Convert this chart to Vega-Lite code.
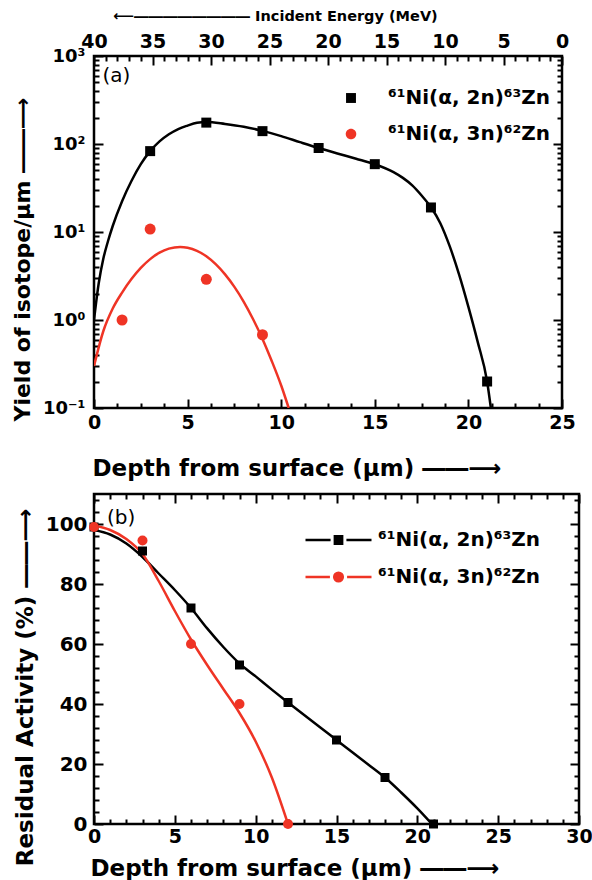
{
  "$schema": "https://vega.github.io/schema/vega-lite/v6.json",
  "background": "white",
  "padding": {"left": 9, "top": 6, "right": 0, "bottom": 0},
  "spacing": 6,
  "resolve": {
    "scale": {"fill": "independent", "stroke": "independent", "shape": "independent"},
    "legend": {"fill": "independent", "stroke": "independent", "shape": "independent"}
  },
  "config": {
    "font": "DejaVu Sans",
    "view": {"stroke": "black", "strokeWidth": 2.5},
    "axis": {
      "domain": false, "grid": false, "tickColor": "black", "tickWidth": 2,
      "labelColor": "black", "labelFont": "DejaVu Sans", "labelFontWeight": "bold", "labelFontSize": 19,
      "titleFont": "DejaVu Sans", "titleFontWeight": "bold", "titleFontSize": 22, "titleColor": "black",
      "labelOverlap": false, "labelFlush": false, "labelBound": false
    }
  },
  "datasets": {
    "fitA_2n": [
      {"depth": 0, "value": 1.0}, {"depth": 0.25, "value": 2.6}, {"depth": 0.5, "value": 5.0}, {"depth": 0.75, "value": 7.9},
      {"depth": 1, "value": 11.7}, {"depth": 1.5, "value": 22.4}, {"depth": 2, "value": 38}, {"depth": 2.5, "value": 59},
      {"depth": 3, "value": 83}, {"depth": 3.5, "value": 107}, {"depth": 4, "value": 129}, {"depth": 4.5, "value": 148},
      {"depth": 5, "value": 162}, {"depth": 5.5, "value": 174}, {"depth": 6, "value": 178}, {"depth": 7, "value": 169},
      {"depth": 8, "value": 157}, {"depth": 9, "value": 141}, {"depth": 10, "value": 123}, {"depth": 11, "value": 105},
      {"depth": 12, "value": 90}, {"depth": 13, "value": 78}, {"depth": 14, "value": 68}, {"depth": 15, "value": 58.9},
      {"depth": 16, "value": 47.9}, {"depth": 16.5, "value": 41.2}, {"depth": 17, "value": 33.9}, {"depth": 17.5, "value": 26},
      {"depth": 18, "value": 19.1}, {"depth": 18.5, "value": 12.6}, {"depth": 19, "value": 6.9}, {"depth": 19.5, "value": 3.3},
      {"depth": 20, "value": 1.41}, {"depth": 20.5, "value": 0.56}, {"depth": 21, "value": 0.2}, {"depth": 21.2, "value": 0.1}
    ],
    "fitA_3n": [
      {"depth": 0, "value": 0.3}, {"depth": 0.5, "value": 0.75}, {"depth": 1, "value": 1.35}, {"depth": 1.5, "value": 2.05},
      {"depth": 2, "value": 2.92}, {"depth": 2.5, "value": 3.91}, {"depth": 3, "value": 4.92}, {"depth": 3.5, "value": 5.82},
      {"depth": 4, "value": 6.47}, {"depth": 4.6, "value": 6.76}, {"depth": 5, "value": 6.62}, {"depth": 5.5, "value": 6.11},
      {"depth": 6, "value": 5.3}, {"depth": 6.5, "value": 4.31}, {"depth": 7, "value": 3.3}, {"depth": 7.5, "value": 2.38},
      {"depth": 8, "value": 1.61}, {"depth": 8.5, "value": 1.02}, {"depth": 9, "value": 0.61}, {"depth": 9.5, "value": 0.34},
      {"depth": 10, "value": 0.18}, {"depth": 10.4, "value": 0.1}
    ],
    "ptsA": [
      {"reaction": "⁶¹Ni(α, 2n)⁶³Zn", "depth": 3, "value": 83},
      {"reaction": "⁶¹Ni(α, 2n)⁶³Zn", "depth": 6, "value": 175},
      {"reaction": "⁶¹Ni(α, 2n)⁶³Zn", "depth": 9, "value": 140},
      {"reaction": "⁶¹Ni(α, 2n)⁶³Zn", "depth": 12, "value": 90},
      {"reaction": "⁶¹Ni(α, 2n)⁶³Zn", "depth": 15, "value": 59},
      {"reaction": "⁶¹Ni(α, 2n)⁶³Zn", "depth": 18, "value": 19},
      {"reaction": "⁶¹Ni(α, 2n)⁶³Zn", "depth": 21, "value": 0.2},
      {"reaction": "⁶¹Ni(α, 3n)⁶²Zn", "depth": 1.5, "value": 1.0},
      {"reaction": "⁶¹Ni(α, 3n)⁶²Zn", "depth": 3, "value": 10.8},
      {"reaction": "⁶¹Ni(α, 3n)⁶²Zn", "depth": 6, "value": 2.9},
      {"reaction": "⁶¹Ni(α, 3n)⁶²Zn", "depth": 9, "value": 0.68}
    ],
    "fitB_2n": [
      {"depth": 0, "value": 98}, {"depth": 1, "value": 96.5}, {"depth": 2, "value": 93.5}, {"depth": 3, "value": 89},
      {"depth": 4, "value": 83.5}, {"depth": 5, "value": 78}, {"depth": 6, "value": 72}, {"depth": 7, "value": 65.2},
      {"depth": 8, "value": 59}, {"depth": 9, "value": 53.5}, {"depth": 10, "value": 49.2}, {"depth": 11, "value": 44.8},
      {"depth": 12, "value": 40.5}, {"depth": 13, "value": 36.3}, {"depth": 14, "value": 32.2}, {"depth": 15, "value": 28},
      {"depth": 16, "value": 23.8}, {"depth": 17, "value": 19.7}, {"depth": 18, "value": 15.5}, {"depth": 19, "value": 10.5},
      {"depth": 20, "value": 5.2}, {"depth": 20.9, "value": 0}
    ],
    "fitB_3n": [
      {"depth": 0, "value": 99.5}, {"depth": 1, "value": 98}, {"depth": 2, "value": 95}, {"depth": 3, "value": 90},
      {"depth": 4, "value": 81}, {"depth": 5, "value": 71}, {"depth": 6, "value": 61.5}, {"depth": 7, "value": 53},
      {"depth": 8, "value": 45}, {"depth": 9, "value": 37}, {"depth": 10, "value": 27.5}, {"depth": 11, "value": 15.5},
      {"depth": 12, "value": 0}
    ],
    "ptsB": [
      {"reaction": "⁶¹Ni(α, 2n)⁶³Zn", "depth": 0, "value": 99},
      {"reaction": "⁶¹Ni(α, 2n)⁶³Zn", "depth": 3, "value": 91},
      {"reaction": "⁶¹Ni(α, 2n)⁶³Zn", "depth": 6, "value": 72},
      {"reaction": "⁶¹Ni(α, 2n)⁶³Zn", "depth": 9, "value": 53},
      {"reaction": "⁶¹Ni(α, 2n)⁶³Zn", "depth": 12, "value": 40.5},
      {"reaction": "⁶¹Ni(α, 2n)⁶³Zn", "depth": 15, "value": 28},
      {"reaction": "⁶¹Ni(α, 2n)⁶³Zn", "depth": 18, "value": 15.5},
      {"reaction": "⁶¹Ni(α, 2n)⁶³Zn", "depth": 21, "value": 0},
      {"reaction": "⁶¹Ni(α, 3n)⁶²Zn", "depth": 0, "value": 99},
      {"reaction": "⁶¹Ni(α, 3n)⁶²Zn", "depth": 3, "value": 94.5},
      {"reaction": "⁶¹Ni(α, 3n)⁶²Zn", "depth": 6, "value": 60},
      {"reaction": "⁶¹Ni(α, 3n)⁶²Zn", "depth": 9, "value": 40},
      {"reaction": "⁶¹Ni(α, 3n)⁶²Zn", "depth": 12, "value": 0}
    ],
    "labels": [
      {"panel": "a", "label": "(a)", "depth": 0.45, "value": 590},
      {"panel": "b", "label": "(b)", "depth": 0.8, "value": 102}
    ],
    "axisA": [{"energy": 20, "value": 1}],
    "axisB": [{"depth": 15, "value": 50}]
  },
  "vconcat": [
    {
      "width": 468,
      "height": 352,
      "resolve": {"scale": {"x": "independent", "y": "independent"}},
      "layer": [
        {
          "encoding": {
            "x": {
              "field": "depth", "type": "quantitative",
              "scale": {"domain": [0, 25], "nice": false, "zero": false},
              "axis": {
                "orient": "bottom",
                "values": [0, 1.25, 2.5, 3.75, 5, 6.25, 7.5, 8.75, 10, 11.25, 12.5, 13.75, 15, 16.25, 17.5, 18.75, 20, 21.25, 22.5, 23.75, 25],
                "format": "d",
                "labelExpr": "datum.value % 5 === 0 ? datum.label : ''",
                "tickSize": {"condition": {"test": "datum.value % 5 === 0", "value": -9}, "value": -5},
                "labelPadding": 14,
                "title": "Depth from surface (μm) ――⟶",
                "titleFontSize": 23,
                "titleX": -2, "titleY": 60, "titleAlign": "left", "titleBaseline": "middle"
              }
            },
            "y": {
              "field": "value", "type": "quantitative",
              "scale": {"type": "log", "domain": [0.1, 1000], "nice": false},
              "axis": {
                "orient": "left",
                "values": [0.1, 0.2, 0.3, 0.4, 0.5, 0.6, 0.7, 0.8, 0.9, 1, 2, 3, 4, 5, 6, 7, 8, 9, 10, 20, 30, 40, 50, 60, 70, 80, 90, 100, 200, 300, 400, 500, 600, 700, 800, 900, 1000],
                "labelExpr": "datum.value == 0.1 ? '10⁻¹' : datum.value == 1 ? '10⁰' : datum.value == 10 ? '10¹' : datum.value == 100 ? '10²' : datum.value == 1000 ? '10³' : ''",
                "tickSize": {"condition": {"test": "datum.value == 0.1 || datum.value == 1 || datum.value == 10 || datum.value == 100 || datum.value == 1000", "value": -9}, "value": -5},
                "labelPadding": 18,
                "labelFontSize": 18,
                "title": "Yield of isotope/μm ――⟶",
                "titleX": -72, "titleY": 203, "titleAlign": "center", "titleBaseline": "middle", "titleAngle": 270
              }
            }
          },
          "layer": [
            {"data": {"name": "fitA_3n"}, "mark": {"type": "line", "color": "#ef3425", "strokeWidth": 2.5, "interpolate": "monotone", "clip": true}},
            {"data": {"name": "fitA_2n"}, "mark": {"type": "line", "color": "black", "strokeWidth": 2.5, "interpolate": "monotone", "clip": true}},
            {"data": {"name": "ptsA"}, "transform": [{"filter": {"field": "reaction", "equal": "⁶¹Ni(α, 2n)⁶³Zn"}}],
             "mark": {"type": "point", "shape": "square", "filled": true, "color": "black", "size": 100, "opacity": 1}},
            {"data": {"name": "ptsA"}, "transform": [{"filter": {"field": "reaction", "equal": "⁶¹Ni(α, 3n)⁶²Zn"}}],
             "mark": {"type": "point", "shape": "circle", "filled": true, "color": "#ef3425", "size": 121, "opacity": 1}},
            {
              "data": {"name": "ptsA"},
              "mark": {"type": "point", "filled": true, "opacity": 0, "size": 4356},
              "encoding": {
                "fill": {"field": "reaction", "type": "nominal",
                  "scale": {"domain": ["⁶¹Ni(α, 2n)⁶³Zn", "⁶¹Ni(α, 3n)⁶²Zn"], "range": ["black", "#ef3425"]},
                  "legend": {"orient": "none", "legendX": 224, "legendY": 32, "title": null, "clipHeight": 20, "rowPadding": 16, "labelOffset": 4, "labelFontSize": 20, "labelFont": "DejaVu Sans", "labelFontWeight": "bold", "labelColor": "black", "symbolSize": 4356, "symbolStrokeWidth": 0, "symbolOpacity": 1, "padding": 0, "labelLimit": 400}},
                "shape": {"field": "reaction", "type": "nominal",
                  "scale": {"domain": ["⁶¹Ni(α, 2n)⁶³Zn", "⁶¹Ni(α, 3n)⁶²Zn"], "range": ["M-0.15,-0.15H0.15V0.15H-0.15Z", "M-0.16,0A0.16,0.16 0 1,0 0.16,0A0.16,0.16 0 1,0 -0.16,0Z"]},
                  "legend": {"orient": "none", "legendX": 224, "legendY": 32, "title": null, "clipHeight": 20, "rowPadding": 16, "labelOffset": 4, "labelFontSize": 20, "labelFont": "DejaVu Sans", "labelFontWeight": "bold", "labelColor": "black", "symbolSize": 4356, "symbolStrokeWidth": 0, "symbolOpacity": 1, "padding": 0, "labelLimit": 400}}
              }
            },
            {
              "data": {"name": "labels"}, "transform": [{"filter": "datum.panel == 'a'"}],
              "mark": {"type": "text", "align": "left", "baseline": "middle", "fontSize": 20, "font": "DejaVu Sans", "color": "black"},
              "encoding": {"text": {"field": "label"}}
            }
          ]
        },
        {
          "data": {"name": "axisA"},
          "mark": {"type": "point", "opacity": 0},
          "encoding": {
            "x": {
              "field": "energy", "type": "quantitative",
              "scale": {"domain": [0, 40], "reverse": true, "nice": false, "zero": false},
              "axis": {
                "orient": "top",
                "values": [0, 1, 2, 3, 4, 5, 6, 7, 8, 9, 10, 11, 12, 13, 14, 15, 16, 17, 18, 19, 20, 21, 22, 23, 24, 25, 26, 27, 28, 29, 30, 31, 32, 33, 34, 35, 36, 37, 38, 39, 40],
                "format": "d",
                "labelExpr": "datum.value % 5 === 0 ? datum.label : ''",
                "tickSize": {"condition": {"test": "datum.value % 5 === 0", "value": -9}, "value": -5},
                "labelPadding": 14,
                "title": "⟵――――――――   Incident Energy (MeV)",
                "titleFontSize": 14.5,
                "titleX": 181, "titleY": -40, "titleAlign": "center", "titleBaseline": "middle"
              }
            },
            "y": {
              "field": "value", "type": "quantitative",
              "scale": {"type": "log", "domain": [0.1, 1000], "nice": false},
              "axis": {
                "orient": "right",
                "values": [0.1, 0.2, 0.3, 0.4, 0.5, 0.6, 0.7, 0.8, 0.9, 1, 2, 3, 4, 5, 6, 7, 8, 9, 10, 20, 30, 40, 50, 60, 70, 80, 90, 100, 200, 300, 400, 500, 600, 700, 800, 900, 1000],
                "labels": false,
                "tickSize": {"condition": {"test": "datum.value == 0.1 || datum.value == 1 || datum.value == 10 || datum.value == 100 || datum.value == 1000", "value": -9}, "value": -5},
                "title": null
              }
            }
          }
        }
      ]
    },
    {
      "width": 485,
      "height": 330,
      "resolve": {"scale": {"x": "independent", "y": "independent"}},
      "layer": [
        {
          "encoding": {
            "x": {
              "field": "depth", "type": "quantitative",
              "scale": {"domain": [0, 30], "nice": false, "zero": false},
              "axis": {
                "orient": "bottom",
                "values": [0, 1, 2, 3, 4, 5, 6, 7, 8, 9, 10, 11, 12, 13, 14, 15, 16, 17, 18, 19, 20, 21, 22, 23, 24, 25, 26, 27, 28, 29, 30],
                "format": "d",
                "labelExpr": "datum.value % 5 === 0 ? datum.label : ''",
                "tickSize": {"condition": {"test": "datum.value % 5 === 0", "value": -9}, "value": -5},
                "labelPadding": 12,
                "labelFontSize": 19,
                "title": "Depth from surface (μm) ――⟶",
                "titleFontSize": 23,
                "titleX": -4, "titleY": 44, "titleAlign": "left", "titleBaseline": "middle"
              }
            },
            "y": {
              "field": "value", "type": "quantitative",
              "scale": {"domain": [0, 110], "nice": false, "zero": true},
              "axis": {
                "orient": "left",
                "values": [0, 4, 8, 12, 16, 20, 24, 28, 32, 36, 40, 44, 48, 52, 56, 60, 64, 68, 72, 76, 80, 84, 88, 92, 96, 100, 104, 108],
                "labelExpr": "datum.value % 20 === 0 ? datum.label : ''",
                "tickSize": {"condition": {"test": "datum.value % 20 === 0", "value": -9}, "value": -5},
                "labelPadding": 16,
                "labelFontSize": 20,
                "title": "Residual Activity (%) ――⟶",
                "titleFontSize": 23,
                "titleX": -69, "titleY": 193, "titleAlign": "center", "titleBaseline": "middle", "titleAngle": 270
              }
            }
          },
          "layer": [
            {"data": {"name": "fitB_2n"}, "mark": {"type": "line", "color": "black", "strokeWidth": 2.5, "interpolate": "monotone", "clip": true}},
            {"data": {"name": "fitB_3n"}, "mark": {"type": "line", "color": "#ef3425", "strokeWidth": 2.5, "interpolate": "monotone", "clip": true}},
            {"data": {"name": "ptsB"}, "transform": [{"filter": {"field": "reaction", "equal": "⁶¹Ni(α, 2n)⁶³Zn"}}],
             "mark": {"type": "point", "shape": "square", "filled": true, "color": "black", "size": 81, "opacity": 1}},
            {"data": {"name": "ptsB"}, "transform": [{"filter": {"field": "reaction", "equal": "⁶¹Ni(α, 3n)⁶²Zn"}}],
             "mark": {"type": "point", "shape": "circle", "filled": true, "color": "#ef3425", "size": 100, "opacity": 1}},
            {
              "data": {"name": "ptsB"},
              "mark": {"type": "point", "filled": true, "opacity": 0, "size": 4356},
              "encoding": {
                "fill": {"field": "reaction", "type": "nominal",
                  "scale": {"domain": ["⁶¹Ni(α, 2n)⁶³Zn", "⁶¹Ni(α, 3n)⁶²Zn"], "range": ["black", "#ef3425"]},
                  "legend": {"orient": "none", "legendX": 210, "legendY": 36, "title": null, "clipHeight": 20, "rowPadding": 17, "labelOffset": 5, "labelFontSize": 20, "labelFont": "DejaVu Sans", "labelFontWeight": "bold", "labelColor": "black", "symbolSize": 4356, "symbolStrokeWidth": 2.5, "symbolOpacity": 1, "padding": 0, "labelLimit": 400}},
                "stroke": {"field": "reaction", "type": "nominal",
                  "scale": {"domain": ["⁶¹Ni(α, 2n)⁶³Zn", "⁶¹Ni(α, 3n)⁶²Zn"], "range": ["black", "#ef3425"]},
                  "legend": {"orient": "none", "legendX": 210, "legendY": 36, "title": null, "clipHeight": 20, "rowPadding": 17, "labelOffset": 5, "labelFontSize": 20, "labelFont": "DejaVu Sans", "labelFontWeight": "bold", "labelColor": "black", "symbolSize": 4356, "symbolStrokeWidth": 2.5, "symbolOpacity": 1, "padding": 0, "labelLimit": 400}},
                "shape": {"field": "reaction", "type": "nominal",
                  "scale": {"domain": ["⁶¹Ni(α, 2n)⁶³Zn", "⁶¹Ni(α, 3n)⁶²Zn"], "range": ["M-1,0H-0.24M0.24,0H1M-0.11,-0.11H0.11V0.11H-0.11Z", "M-1,0H-0.26M0.26,0H1M-0.13,0A0.13,0.13 0 1,0 0.13,0A0.13,0.13 0 1,0 -0.13,0Z"]},
                  "legend": {"orient": "none", "legendX": 210, "legendY": 36, "title": null, "clipHeight": 20, "rowPadding": 17, "labelOffset": 5, "labelFontSize": 20, "labelFont": "DejaVu Sans", "labelFontWeight": "bold", "labelColor": "black", "symbolSize": 4356, "symbolStrokeWidth": 2.5, "symbolOpacity": 1, "padding": 0, "labelLimit": 400}}
              }
            },
            {
              "data": {"name": "labels"}, "transform": [{"filter": "datum.panel == 'b'"}],
              "mark": {"type": "text", "align": "left", "baseline": "middle", "fontSize": 20, "font": "DejaVu Sans", "color": "black"},
              "encoding": {"text": {"field": "label"}}
            }
          ]
        },
        {
          "data": {"name": "axisB"},
          "mark": {"type": "point", "opacity": 0},
          "encoding": {
            "x": {
              "field": "depth", "type": "quantitative",
              "scale": {"domain": [0, 30], "nice": false, "zero": false},
              "axis": {
                "orient": "top",
                "values": [0, 1, 2, 3, 4, 5, 6, 7, 8, 9, 10, 11, 12, 13, 14, 15, 16, 17, 18, 19, 20, 21, 22, 23, 24, 25, 26, 27, 28, 29, 30],
                "labels": false,
                "tickSize": {"condition": {"test": "datum.value % 5 === 0", "value": -9}, "value": -5},
                "title": null
              }
            },
            "y": {
              "field": "value", "type": "quantitative",
              "scale": {"domain": [0, 110], "nice": false, "zero": true},
              "axis": {
                "orient": "right",
                "values": [0, 4, 8, 12, 16, 20, 24, 28, 32, 36, 40, 44, 48, 52, 56, 60, 64, 68, 72, 76, 80, 84, 88, 92, 96, 100, 104, 108],
                "labels": false,
                "tickSize": {"condition": {"test": "datum.value % 20 === 0", "value": -9}, "value": -5},
                "title": null
              }
            }
          }
        }
      ]
    }
  ]
}
